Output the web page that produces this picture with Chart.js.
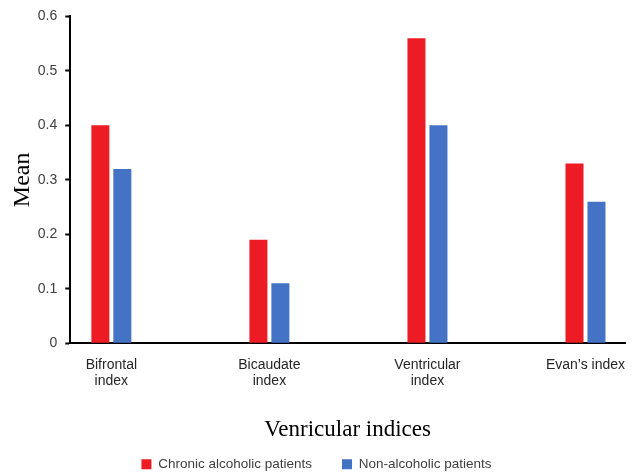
<!DOCTYPE html>
<html>
<head>
<meta charset="utf-8">
<script src="https://cdn.jsdelivr.net/npm/chart.js@4"></script>
<style>
  html, body { margin: 0; padding: 0; background: #fff; }
  #wrap { width: 632px; height: 476px; }
</style>
</head>
<body>
<div id="wrap"><canvas id="indicesChart"></canvas></div>
<script>
const categories = [['Bifrontal', 'index'], ['Bicaudate', 'index'], ['Ventricular', 'index'], 'Evan\u2019s index'];
const chronicValues = [0.40, 0.19, 0.56, 0.33];
const nonAlcoholicValues = [0.32, 0.11, 0.40, 0.26];
const yTicks = [0, 0.1, 0.2, 0.3, 0.4, 0.5, 0.6];

const ctx = document.getElementById('indicesChart').getContext('2d');

const toPoints = vals => vals.map((v, i) => ({ x: i, y: v }));

new Chart(ctx, {
    type: 'bar',
    data: {
        datasets: [{
            label: 'Chronic alcoholic patients',
            data: toPoints(chronicValues),
            backgroundColor: '#ED1C24'
        }, {
            label: 'Non-alcoholic patients',
            data: toPoints(nonAlcoholicValues),
            backgroundColor: '#4472C4'
        }]
    },
    options: {
        responsive: true,
        maintainAspectRatio: false,
        animation: false,
        categoryPercentage: 0.278,
        barPercentage: 0.82,
        layout: { padding: { top: 8, right: 7, left: 8, bottom: -5 } },
        plugins: {
            tooltip: { enabled: false },
            legend: {
                position: 'bottom',
                labels: {
                    boxWidth: 10,
                    boxHeight: 10,
                    padding: 30,
                    color: '#404040',
                    font: { family: 'Liberation Sans', size: 13.5 }
                }
            }
        },
        scales: {
            x: {
                type: 'linear',
                offset: false,
                min: -0.26,
                max: 3.25,
                afterBuildTicks: scale => {
                    scale.ticks = categories.map((c, i) => ({ value: i }));
                },
                // let the last label run past the plot edge, as in the original
                afterFit: scale => { scale.paddingRight = 0; },
                ticks: {
                    autoSkip: false,
                    maxRotation: 0,
                    color: '#262626',
                    font: { family: 'Liberation Sans', size: 14 },
                    padding: 13,
                    callback: v => categories[v]
                },
                grid: { display: false, drawTicks: false },
                border: { color: '#000', width: 2 },
                title: {
                    display: true,
                    text: 'Venricular indices',
                    color: '#000',
                    font: { family: 'Liberation Serif', size: 23 },
                    padding: { top: 13, bottom: -16 }
                }
            },
            y: {
                min: 0,
                max: 0.6,
                afterBuildTicks: scale => {
                    scale.ticks = yTicks.map(v => ({ value: v }));
                },
                ticks: {
                    color: '#404040',
                    font: { family: 'Liberation Sans', size: 14 },
                    padding: 8,
                    callback: v => String(v)
                },
                grid: {
                    display: true,
                    drawOnChartArea: false,
                    drawTicks: true,
                    tickLength: 5,
                    tickWidth: 2,
                    color: '#000'
                },
                border: { color: '#000', width: 2 },
                title: {
                    display: true,
                    text: 'Mean',
                    color: '#000',
                    font: { family: 'Liberation Serif', size: 24 },
                    padding: { top: 0, bottom: -7 }
                }
            }
        }
    }
});
</script>
</body>
</html>
